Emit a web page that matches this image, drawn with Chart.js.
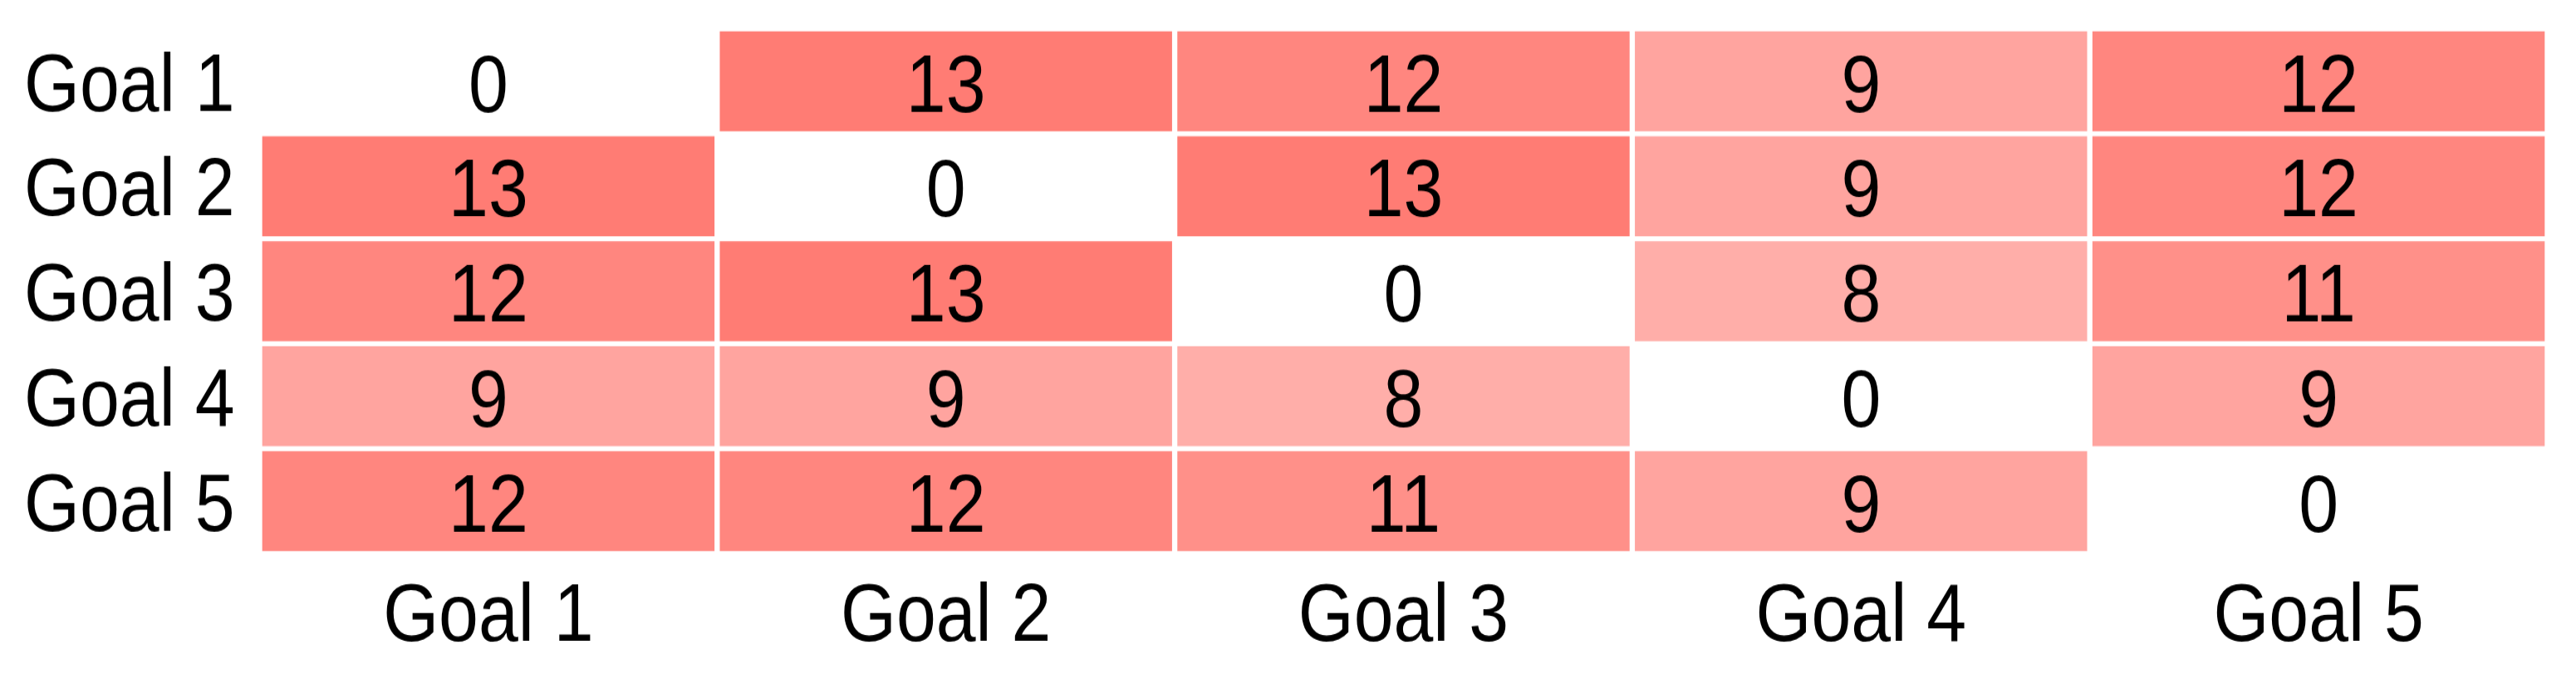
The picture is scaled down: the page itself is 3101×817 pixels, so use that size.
<!DOCTYPE html>
<html>
<head>
<meta charset="utf-8">
<script src="https://cdn.jsdelivr.net/npm/chart.js"></script>
<style>
  html, body { margin: 0; padding: 0; background: #fff; }
  #wrap { width: 3101px; height: 817px; }
</style>
</head>
<body>
<div id="wrap">
  <!-- the reference is stretched vertically, so the bitmap is drawn shorter and scaled up by css -->
  <canvas id="heat" width="3101" height="710" style="display:block;width:3101px;height:817px"></canvas>
</div>
<script>
// goal-vs-goal counts, one array per row (top to bottom)
const colLabels = ['Goal 1', 'Goal 2', 'Goal 3', 'Goal 4', 'Goal 5'];
const rowLabels = ['Goal 1', 'Goal 2', 'Goal 3', 'Goal 4', 'Goal 5'];
const goal1 = [0, 13, 12, 9, 12];
const goal2 = [13, 0, 13, 9, 12];
const goal3 = [12, 13, 0, 8, 11];
const goal4 = [9, 9, 8, 0, 9];
const goal5 = [12, 12, 11, 9, 0];
const rows = [goal1, goal2, goal3, goal4, goal5];

const FONT = '"Liberation Sans", Arial, Helvetica, sans-serif';
const FONT_SIZE = 86;
const maxVal = 13;

// white -> salmon colour scale
function cellColor(v) {
  const t = v / maxVal;
  const g = Math.round(255 - (255 - 124) * t);
  const b = Math.round(255 - (255 - 116) * t);
  return `rgb(255, ${g}, ${b})`;
}

// one floating-bar dataset per row, each bar spans its row band
const datasets = rows.map((vals, i) => ({
  label: rowLabels[i],
  data: vals.map(() => [i, i + 1]),
  values: vals,
  backgroundColor: vals.map(cellColor),
  borderColor: '#ffffff',
  borderWidth: { left: 3.5, right: 3.5, top: 3, bottom: 3 },
  borderSkipped: false,
  barPercentage: 1,
  categoryPercentage: 1,
  grouped: false
}));

const cellText = {
  id: 'cellText',
  afterDatasetsDraw(chart) {
    const ctx = chart.ctx;
    ctx.save();
    ctx.fillStyle = '#000';
    ctx.font = FONT_SIZE + 'px ' + FONT;
    ctx.textAlign = 'center';
    ctx.textBaseline = 'middle';
    chart.data.datasets.forEach((ds, i) => {
      chart.getDatasetMeta(i).data.forEach((bar, j) => {
        const p = bar.getCenterPoint();
        ctx.fillText(String(ds.values[j]), p.x, p.y + 8);
      });
    });
    ctx.restore();
  }
};

new Chart(document.getElementById('heat'), {
  type: 'bar',
  data: { labels: colLabels, datasets: datasets },
  options: {
    responsive: false,
    animation: false,
    layout: { padding: { top: 30, right: 34.5, bottom: 0, left: 0 } },
    plugins: { legend: { display: false }, tooltip: { enabled: false } },
    scales: {
      x: {
        type: 'category',
        offset: true,
        grid: { display: false },
        border: { display: false },
        ticks: { color: '#000', font: { family: FONT, size: FONT_SIZE }, padding: 8, maxRotation: 0, autoSkip: false },
        afterFit(scale) {
          scale.height = 131;
          scale.paddingLeft = 0;
          scale.paddingRight = 0;
        }
      },
      y: {
        type: 'linear',
        min: 0,
        max: 5,
        reverse: true,
        display: false
      },
      yl: {
        type: 'category',
        labels: rowLabels,
        position: 'left',
        offset: true,
        grid: { display: false },
        border: { display: false },
        ticks: { color: '#000', font: { family: FONT, size: FONT_SIZE }, padding: 22, labelOffset: 7, autoSkip: false },
        afterFit(scale) {
          scale.width = 312.5;
          scale.paddingTop = 0;
          scale.paddingBottom = 0;
        }
      }
    }
  },
  plugins: [cellText]
});
</script>
</body>
</html>
